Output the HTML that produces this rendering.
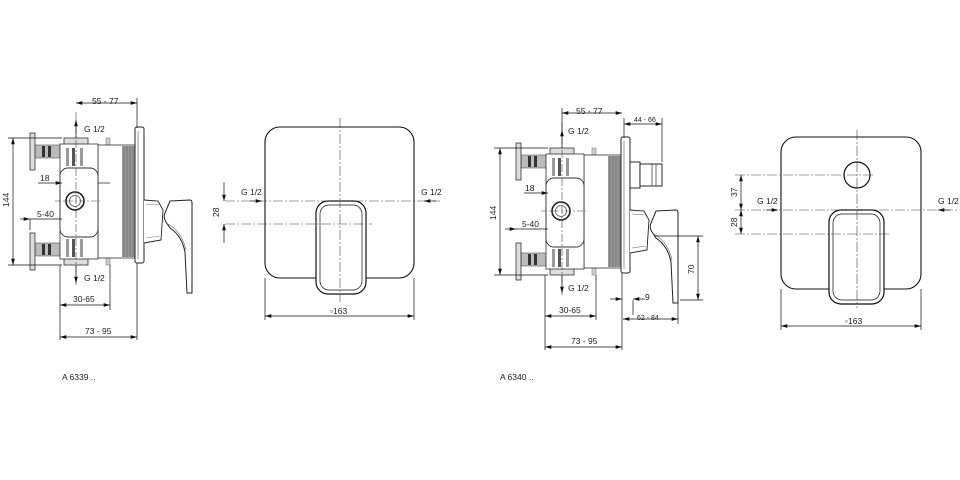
<!DOCTYPE html>
<html><head><meta charset="utf-8"><style>
html,body{margin:0;padding:0;background:#fff;}
svg{display:block;font-family:"Liberation Sans",sans-serif;}
text{font-size:8.5px;fill:#222;}
</style></head><body>
<svg width="960" height="480" viewBox="0 0 960 480" xmlns="http://www.w3.org/2000/svg">
<defs>
<marker id="a" viewBox="0 0 10 6" refX="10" refY="3" markerWidth="9" markerHeight="5.5" orient="auto-start-reverse"><path d="M0,0L10,3L0,6z" fill="#111"/></marker>
<g id="valve">
  <rect x="35" y="145" width="25" height="13" fill="#bbb" stroke="#555" stroke-width="0.6"/>
  <rect x="35" y="243" width="25" height="13" fill="#bbb" stroke="#555" stroke-width="0.6"/>
  <rect x="42" y="146" width="3" height="11" fill="#333"/><rect x="48" y="146" width="3" height="11" fill="#333"/>
  <rect x="42" y="244" width="3" height="11" fill="#333"/><rect x="48" y="244" width="3" height="11" fill="#333"/>
  <rect x="30" y="133" width="5" height="37" fill="#ddd" stroke="#333" stroke-width="0.8"/>
  <rect x="30" y="233" width="5" height="37" fill="#ddd" stroke="#333" stroke-width="0.8"/>
  <rect x="98" y="146" width="10" height="12" fill="#bbb" stroke="#777" stroke-width="0.6"/>
  <rect x="98" y="244" width="10" height="12" fill="#bbb" stroke="#777" stroke-width="0.6"/>
  <rect x="106" y="138" width="4" height="30" fill="#ccc" stroke="#888" stroke-width="0.6"/>
  <rect x="106" y="235" width="4" height="30" fill="#ccc" stroke="#888" stroke-width="0.6"/>
  <rect x="98" y="145" width="38" height="113" fill="#fff" stroke="#333" stroke-width="0.8"/>
  <rect x="122" y="146" width="13" height="111" fill="#999"/>
  <path d="M124,146V257M127,146V257M130,146V257M133,146V257" stroke="#666" stroke-width="0.7"/>
  <rect x="64" y="138" width="24" height="7" fill="#ddd" stroke="#333" stroke-width="0.8"/>
  <rect x="64" y="258" width="24" height="7" fill="#ddd" stroke="#333" stroke-width="0.8"/>
  <rect x="60" y="144" width="38" height="115" fill="#fff" stroke="#333" stroke-width="0.8"/>
  <rect x="66" y="148" width="3" height="18" fill="#999"/><rect x="72" y="148" width="3" height="18" fill="#555"/><rect x="80" y="148" width="3" height="18" fill="#999"/>
  <rect x="66" y="239" width="3" height="18" fill="#999"/><rect x="72" y="239" width="3" height="18" fill="#555"/><rect x="80" y="239" width="3" height="18" fill="#999"/>
  <rect x="60" y="168" width="38" height="69" rx="8" fill="#fff" stroke="#333" stroke-width="0.9"/>
  <circle cx="75" cy="201" r="9" fill="#fff" stroke="#222" stroke-width="1.6"/>
  <circle cx="75" cy="201" r="5.5" fill="#fff" stroke="#555" stroke-width="0.8"/>
  <path d="M76,112V285" stroke="#444" stroke-width="0.6" stroke-dasharray="8,2,2,2"/>
  <path d="M55,201H100" stroke="#444" stroke-width="0.6" stroke-dasharray="6,2,2,2"/>
  <rect x="135" y="127" width="9" height="136" rx="2" fill="#fff" stroke="#222" stroke-width="1"/>
  <path d="M138,131V259" stroke="#555" stroke-width="0.6"/>
  <path d="M144,200L158,201L163,210L161,240L144,243" fill="#fff" stroke="#222" stroke-width="0.9"/>
  <path d="M146,204L160,205M146,238L160,236" stroke="#777" stroke-width="0.6"/>
  <path d="M170,201L190,200Q192,200 192,203L192,293L187,293L185,252Q182,236 170,228L166,222Q163,217 165,213z" fill="#fff" stroke="#222" stroke-width="1"/>
  <path d="M168,224Q182,232 186,250" stroke="#666" stroke-width="0.6" fill="none"/>
</g>
</defs>
<use href="#valve"/>
<g stroke="#111" stroke-width="0.7" fill="none">
  <path d="M76,103H137" marker-start="url(#a)" marker-end="url(#a)"/>
  <path d="M137,98V128"/>
  <path d="M13,138V265" marker-start="url(#a)" marker-end="url(#a)"/>
  <path d="M8,138H62M8,265H62"/>
  <path d="M38,183H62" marker-end="url(#a)"/><path d="M98,183H110"/>
  <path d="M20,219H30" marker-end="url(#a)"/><path d="M30,219H62"/>
  <path d="M30,219V230"/>
  <path d="M76,138V120" marker-end="url(#a)"/>
  <path d="M76,265V283" marker-end="url(#a)"/>
  <path d="M60,305H110" marker-start="url(#a)" marker-end="url(#a)"/>
  <path d="M110,265V310M60,265V340M137,263V340"/>
  <path d="M60,337H137" marker-start="url(#a)" marker-end="url(#a)"/>
</g>
<g>
  <text x="92" y="104">55 - 77</text>
  <text x="84" y="132">G 1/2</text>
  <text x="84" y="281">G 1/2</text>
  <text x="40" y="181">18</text>
  <text x="37" y="217">5-40</text>
  <text x="73" y="302">30-65</text>
  <text x="85" y="334">73 - 95</text>
  <text transform="translate(9,207) rotate(-90)">144</text>
  <text x="62" y="380">A 6339 ..</text>
</g>

<!-- Front view 1 -->
<rect x="265" y="127" width="149" height="151" rx="15" stroke="#111" stroke-width="1.1" fill="none"/>
<g stroke="#111" fill="#fff">
  <rect x="316" y="201" width="50" height="93" rx="12" stroke-width="1.2"/>
  <rect x="320" y="205" width="42" height="85" rx="9" stroke-width="0.7"/>
</g>
<g stroke="#444" stroke-width="0.6" fill="none" stroke-dasharray="10,2,2,2">
  <path d="M340,118V302"/><path d="M225,201H440"/><path d="M225,224H372"/>
</g>
<g stroke="#111" stroke-width="0.7" fill="none">
  <path d="M224,182V201" marker-end="url(#a)"/><path d="M224,243V224" marker-end="url(#a)"/>
  <path d="M250,201H262" marker-end="url(#a)"/><path d="M436,201H424" marker-end="url(#a)"/>
  <path d="M265,278V320M414,278V320"/>
  <path d="M265,316H414" marker-start="url(#a)" marker-end="url(#a)"/>
</g>
<text x="241" y="195">G 1/2</text>
<text x="421" y="195">G 1/2</text>
<text transform="translate(219,217) rotate(-90)">28</text>
<text x="330" y="314">▫163</text>

<!-- Side view 2 -->
<use href="#valve" transform="translate(486,10)"/>
<g stroke="#111" fill="#fff" stroke-width="0.9">
  <rect x="630" y="162" width="10" height="26"/>
  <rect x="640" y="164" width="22" height="22"/>
  <path d="M652,164V186M656,164V186" stroke-width="0.6"/>
</g>
<g stroke="#111" stroke-width="0.7" fill="none">
  <path d="M562,113H622" marker-start="url(#a)" marker-end="url(#a)"/>
  <path d="M562,108V135"/>
  <path d="M624,124H662" marker-start="url(#a)" marker-end="url(#a)"/>
  <path d="M662,118V162M624,118V138"/>
  <path d="M500,148V275" marker-start="url(#a)" marker-end="url(#a)"/>
  <path d="M494,148H548M494,275H548"/>
  <path d="M524,193H548" marker-end="url(#a)"/>
  <path d="M505,229H516" marker-end="url(#a)"/><path d="M516,229H548"/>
  <path d="M562,148V130" marker-end="url(#a)"/>
  <path d="M562,275V293" marker-end="url(#a)"/>
  <path d="M545,316H596" marker-start="url(#a)" marker-end="url(#a)"/>
  <path d="M596,275V320M545,275V350M622,273V350"/>
  <path d="M545,347H622" marker-start="url(#a)" marker-end="url(#a)"/>
  <path d="M610,299H622" marker-end="url(#a)"/><path d="M645,299H633" marker-end="url(#a)"/>
  <path d="M633,300V315"/>
  <path d="M623,319H678" marker-start="url(#a)" marker-end="url(#a)"/>
  <path d="M678,303V324"/>
  <path d="M698,236V300" marker-start="url(#a)" marker-end="url(#a)"/>
  <path d="M655,236H703M680,300H703"/>
</g>
<g>
  <text x="576" y="114">55 - 77</text>
  <text x="634" y="122" style="font-size:7px">44 - 66</text>
  <text x="568" y="134">G 1/2</text>
  <text x="568" y="291">G 1/2</text>
  <text x="525" y="191">18</text>
  <text x="522" y="227">5-40</text>
  <text x="559" y="313">30-65</text>
  <text x="571" y="344">73 - 95</text>
  <text x="645" y="300">9</text>
  <text x="637" y="320" style="font-size:7px">62 - 84</text>
  <text transform="translate(496,220) rotate(-90)">144</text>
  <text transform="translate(694,274) rotate(-90)">70</text>
  <text x="500" y="380">A 6340 ..</text>
</g>

<!-- Front view 2 -->
<g stroke="#111" fill="none">
  <rect x="781" y="137" width="140" height="152" rx="15" stroke-width="1.1"/>
  <circle cx="857" cy="175" r="13" stroke-width="1.2"/>
</g>
<g stroke="#111" fill="#fff">
  <rect x="829" y="210" width="55" height="94" rx="12" stroke-width="1.2"/>
  <rect x="833" y="214" width="47" height="86" rx="9" stroke-width="0.7"/>
</g>
<g stroke="#444" stroke-width="0.6" fill="none" stroke-dasharray="10,2,2,2">
  <path d="M857,130V308"/><path d="M735,175H875"/><path d="M735,210H958"/><path d="M735,234H890"/>
</g>
<g stroke="#111" stroke-width="0.7" fill="none">
  <path d="M741,175V210" marker-start="url(#a)" marker-end="url(#a)"/>
  <path d="M741,210V234" marker-start="url(#a)" marker-end="url(#a)"/>
  <path d="M766,210H778" marker-end="url(#a)"/><path d="M950,210H938" marker-end="url(#a)"/>
  <path d="M781,289V330M921,289V330"/>
  <path d="M781,326H921" marker-start="url(#a)" marker-end="url(#a)"/>
</g>
<text x="757" y="204">G 1/2</text>
<text x="938" y="204">G 1/2</text>
<text transform="translate(737,197) rotate(-90)">37</text>
<text transform="translate(737,227) rotate(-90)">28</text>
<text x="845" y="324">▫163</text>
</svg>
</body></html>
